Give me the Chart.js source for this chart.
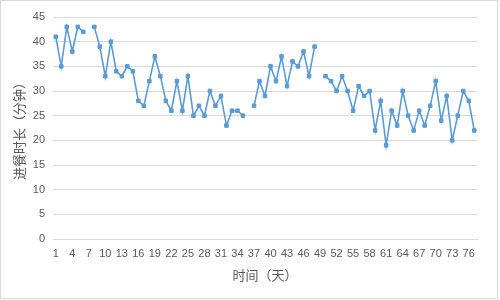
<!DOCTYPE html>
<html>
<head>
<meta charset="utf-8">
<script src="https://cdn.jsdelivr.net/npm/chart.js@4/dist/chart.umd.min.js"></script>
<style>
  html, body { margin: 0; padding: 0; background: #fff; }
  #wrap { width: 500px; height: 300px; position: relative; }
</style>
</head>
<body>
<div id="wrap"><canvas id="chart"></canvas></div>
<script>
// Days (categories)
const days = [
    1, 2, 3, 4, 5, 6, 7, 8, 9, 10, 11, 12, 13, 14, 15, 16, 17, 18, 19, 20,
    21, 22, 23, 24, 25, 26, 27, 28, 29, 30, 31, 32, 33, 34, 35, 36, 37, 38, 39, 40,
    41, 42, 43, 44, 45, 46, 47, 48, 49, 50, 51, 52, 53, 54, 55, 56, 57, 58, 59, 60,
    61, 62, 63, 64, 65, 66, 67, 68, 69, 70, 71, 72, 73, 74, 75, 76, 77
];

// Meal duration (minutes), null = missing day
const mealMinutes = [
    41, 35, 43, 38, 43, 42, null, 43, 39, 33, 40, 34, 33, 35, 34, 28, 27, 32, 37, 33,
    28, 26, 32, 26, 33, 25, 27, 25, 30, 27, 29, 23, 26, 26, 25, null, 27, 32, 29, 35,
    32, 37, 31, 36, 35, 38, 33, 39, null, 33, 32, 30, 33, 30, 26, 31, 29, 30, 22, 28,
    19, 26, 23, 30, 25, 22, 26, 23, 27, 32, 24, 29, 20, 25, 30, 28, 22
];

// Labels shown on the x axis
const tickDays = [1, 4, 7, 10, 13, 16, 19, 22, 25, 28, 31, 34, 37, 40, 43, 46, 49, 52, 55, 58, 61, 64, 67, 70, 73, 76];

const textColor = '#595959';
const gridColor = '#d9d9d9';
const lineColor = '#5b9bd5';

// Light frame round the whole chart, like the spreadsheet chart area
const framePlugin = {
    id: 'frame',
    afterDraw(chart) {
        const ctx = chart.ctx;
        ctx.save();
        ctx.strokeStyle = gridColor;
        ctx.lineWidth = 1;
        ctx.strokeRect(0.5, 0.5, 497, 298);
        ctx.restore();
    }
};

new Chart(document.getElementById('chart').getContext('2d'), {
    type: 'line',
    data: {
        labels: days,
        datasets: [{
            data: mealMinutes,
            borderColor: lineColor,
            backgroundColor: lineColor,
            borderWidth: 1.6,
            tension: 0,
            spanGaps: false,
            pointStyle: 'rect',
            pointRadius: 2.5,
            pointBorderWidth: 1,
            pointBackgroundColor: lineColor,
            pointBorderColor: lineColor
        }]
    },
    options: {
        responsive: true,
        maintainAspectRatio: false,
        animation: false,
        layout: { padding: { top: 17, right: 23, bottom: 0, left: 0 } },
        plugins: {
            legend: { display: false },
            tooltip: { enabled: false }
        },
        scales: {
            x: {
                offset: true,
                grid: { display: false, drawTicks: false },
                border: { color: gridColor },
                ticks: {
                    autoSkip: false,
                    maxRotation: 0,
                    padding: 8,
                    color: textColor,
                    font: { family: 'Liberation Sans', size: 11 },
                    callback: function(value) {
                        const d = days[value];
                        return tickDays.includes(d) ? String(d) : '';
                    }
                },
                title: {
                    display: true,
                    text: '时间（天）',
                    color: textColor,
                    font: { family: 'Noto Sans CJK SC', size: 13 },
                    padding: { top: 0, bottom: 17 }
                },
                afterFit: s => { s.height = 61; }
            },
            y: {
                min: 0,
                max: 45,
                grid: { color: gridColor, drawTicks: false },
                border: { display: false },
                ticks: {
                    stepSize: 5,
                    padding: 8,
                    color: textColor,
                    font: { family: 'Liberation Sans', size: 11 }
                },
                title: {
                    display: true,
                    text: '进餐时长（分钟）',
                    color: textColor,
                    font: { family: 'Noto Sans CJK SC', size: 13 },
                    padding: { top: 11, bottom: 0 }
                },
                afterFit: s => { s.width = 53; }
            }
        }
    },
    plugins: [framePlugin]
});
</script>
</body>
</html>
